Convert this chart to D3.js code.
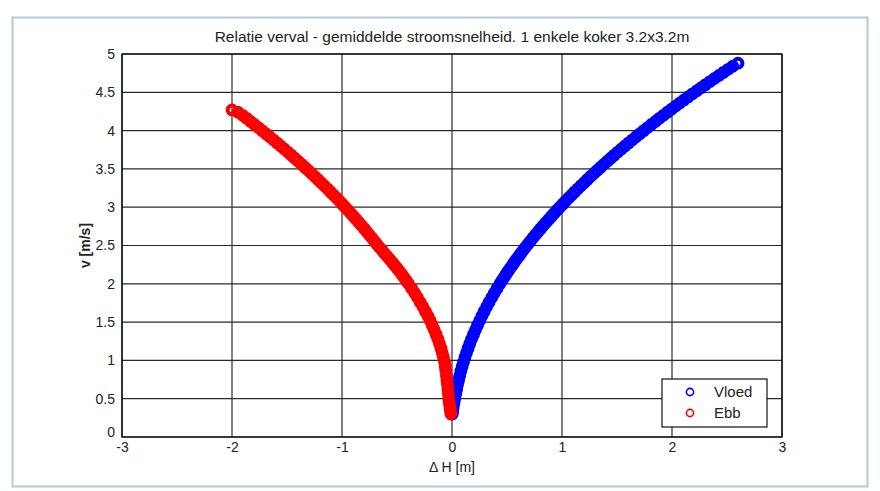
<!DOCTYPE html>
<html>
<head>
<meta charset="utf-8">
<script src="https://cdnjs.cloudflare.com/ajax/libs/d3/7.8.5/d3.min.js"></script>
<style>
  body { margin: 0; background: #fff; }
  svg { display: block; font-family: "Liberation Sans", Arial, sans-serif; }
</style>
</head>
<body>
<svg id="chart" width="880" height="491"></svg>
<script>
// values
const xTicks = [-3, -2, -1, 0, 1, 2, 3];
const yTicks = [0, 0.5, 1, 1.5, 2, 2.5, 3, 3.5, 4, 4.5, 5];
const seriesNames = ["Vloed", "Ebb"];

const vloedH = [0.003, 0.006, 0.010, 0.014, 0.019, 0.025,
  0.034, 0.042, 0.050, 0.060, 0.070, 0.081, 0.092, 0.105, 0.118, 0.132, 0.147, 0.162,
  0.178, 0.196, 0.214, 0.232, 0.252, 0.272, 0.293, 0.315, 0.337, 0.361, 0.385, 0.410, 0.436,
  0.453, 0.471, 0.490, 0.508, 0.527, 0.547, 0.566, 0.586, 0.607, 0.627, 0.649, 0.670,
  0.692, 0.714, 0.736, 0.759, 0.782, 0.806, 0.830, 0.854, 0.879, 0.904, 0.929, 0.954,
  0.980, 1.007, 1.033, 1.060, 1.088, 1.115, 1.144, 1.172, 1.201, 1.230, 1.259, 1.289,
  1.319, 1.350, 1.381, 1.412, 1.443, 1.475, 1.507, 1.540, 1.573, 1.606, 1.640, 1.674,
  1.708, 1.743, 1.778, 1.813, 1.849, 1.885, 1.922, 1.958, 1.995, 2.033, 2.071, 2.109,
  2.147, 2.186, 2.226, 2.265, 2.305, 2.345, 2.386, 2.427, 2.468, 2.510, 2.552, 2.600];
const vloedV = [0.30, 0.34, 0.38, 0.42, 0.46, 0.50,
  0.56, 0.62, 0.68, 0.74, 0.80, 0.86, 0.92, 0.98, 1.04, 1.10, 1.16, 1.22,
  1.28, 1.34, 1.40, 1.46, 1.52, 1.58, 1.64, 1.70, 1.76, 1.82, 1.88, 1.94, 2.00,
  2.04, 2.08, 2.12, 2.16, 2.20, 2.24, 2.28, 2.32, 2.36, 2.40, 2.44, 2.48,
  2.52, 2.56, 2.60, 2.64, 2.68, 2.72, 2.76, 2.80, 2.84, 2.88, 2.92, 2.96,
  3.00, 3.04, 3.08, 3.12, 3.16, 3.20, 3.24, 3.28, 3.32, 3.36, 3.40, 3.44,
  3.48, 3.52, 3.56, 3.60, 3.64, 3.68, 3.72, 3.76, 3.80, 3.84, 3.88, 3.92,
  3.96, 4.00, 4.04, 4.08, 4.12, 4.16, 4.20, 4.24, 4.28, 4.32, 4.36, 4.40,
  4.44, 4.48, 4.52, 4.56, 4.60, 4.64, 4.68, 4.72, 4.76, 4.80, 4.84, 4.88];

const ebbH = [-0.010, -0.014, -0.018, -0.022, -0.026, -0.030,
  -0.033, -0.037, -0.041, -0.046, -0.051, -0.056, -0.062, -0.068,
  -0.078, -0.089, -0.101, -0.114, -0.129, -0.145, -0.162, -0.180, -0.199,
  -0.220, -0.242, -0.265, -0.289, -0.314, -0.340, -0.367, -0.395,
  -0.414, -0.434, -0.455, -0.476, -0.498, -0.520, -0.543, -0.566, -0.590, -0.614,
  -0.638, -0.663, -0.685, -0.707, -0.729, -0.752, -0.775, -0.798, -0.822, -0.846,
  -0.870, -0.895, -0.920, -0.945, -0.971, -0.997, -1.023, -1.050, -1.077, -1.105,
  -1.132, -1.161, -1.189, -1.218, -1.247, -1.277, -1.306, -1.337, -1.367, -1.398,
  -1.429, -1.461, -1.493, -1.525, -1.558, -1.591, -1.624, -1.658, -1.692, -1.726,
  -1.761, -1.796, -1.831, -1.867, -1.903, -1.945, -2.000];
const ebbV = [0.30, 0.34, 0.38, 0.42, 0.46, 0.50,
  0.56, 0.62, 0.68, 0.74, 0.80, 0.86, 0.92, 0.98,
  1.04, 1.10, 1.16, 1.22, 1.28, 1.34, 1.40, 1.46, 1.52,
  1.58, 1.64, 1.70, 1.76, 1.82, 1.88, 1.94, 2.00,
  2.04, 2.08, 2.12, 2.16, 2.20, 2.24, 2.28, 2.32, 2.36, 2.40,
  2.44, 2.48, 2.52, 2.56, 2.60, 2.64, 2.68, 2.72, 2.76, 2.80,
  2.84, 2.88, 2.92, 2.96, 3.00, 3.04, 3.08, 3.12, 3.16, 3.20,
  3.24, 3.28, 3.32, 3.36, 3.40, 3.44, 3.48, 3.52, 3.56, 3.60,
  3.64, 3.68, 3.72, 3.76, 3.80, 3.84, 3.88, 3.92, 3.96, 4.00,
  4.04, 4.08, 4.12, 4.16, 4.20, 4.24, 4.27];

const colors = ["#0000ff", "#ff0000"];

let svg = d3.select("#chart");

// outer frame
svg.append("rect")
    .attr("x", 12.5).attr("y", 17.5)
    .attr("width", 855).attr("height", 469)
    .attr("fill", "#fff")
    .attr("stroke", "#b8c8dc")
    .attr("stroke-width", 2);

let padding = {top: 54, bottom: 54, left: 122, right: 98};
let width = 880 - padding.left - padding.right;
let height = 491 - padding.top - padding.bottom;

let x = d3.scaleLinear().domain([-3, 3]).range([0, width]);
let y = d3.scaleLinear().domain([0, 5]).range([height, 0]);

let canvas = svg.append("g")
    .attr("transform", "translate(" + padding.left + "," + padding.top + ")");

// grid
canvas.selectAll("line.vgrid")
    .data(xTicks)
    .enter()
    .append("line")
    .attr("class", "vgrid")
    .attr("x1", d => x(d)).attr("x2", d => x(d))
    .attr("y1", 0).attr("y2", height)
    .attr("stroke", "#2a2a2a").attr("stroke-width", 1.2);

canvas.selectAll("line.hgrid")
    .data(yTicks)
    .enter()
    .append("line")
    .attr("class", "hgrid")
    .attr("x1", 0).attr("x2", width)
    .attr("y1", d => y(d)).attr("y2", d => y(d))
    .attr("stroke", "#2a2a2a").attr("stroke-width", 1.2);

// plain matlab-like labels: "-3", "4.5", "0"
let fmt = d => String(d);
let xAxis = d3.axisBottom(x).tickValues(xTicks).tickSize(0).tickPadding(5).tickFormat(fmt);
let yAxis = d3.axisLeft(y).tickValues(yTicks).tickSize(0).tickPadding(7).tickFormat(fmt);

let gX = canvas.append("g")
    .attr("transform", "translate(0," + height + ")")
    .call(xAxis);
let gY = canvas.append("g").call(yAxis);

[gX, gY].forEach(function(g) {
    g.select(".domain").remove();
    g.selectAll("text")
        .attr("font-size", 14)
        .attr("font-family", "'Liberation Sans', Arial, sans-serif")
        .attr("fill", "#222");
});
// the 0 label sits just above the -3 label, as in the original
gY.selectAll(".tick").filter(d => d === 0).select("text").attr("dy", "-0.05em");

// box
canvas.append("rect")
    .attr("x", 0).attr("y", 0)
    .attr("width", width).attr("height", height)
    .attr("fill", "none")
    .attr("stroke", "#111").attr("stroke-width", 1.4);

// points
let series = [
    {name: seriesNames[0], H: vloedH, V: vloedV, color: colors[0]},
    {name: seriesNames[1], H: ebbH, V: ebbV, color: colors[1]}
];

series.forEach(function(s) {
    let pts = s.H.map(function(h, i) { return {h: h, v: s.V[i]}; });
    canvas.append("g")
        .selectAll("circle")
        .data(pts)
        .enter()
        .append("circle")
        .attr("cx", d => x(d.h))
        .attr("cy", d => y(d.v))
        .attr("r", 4.4)
        .attr("fill", "none")
        .attr("stroke", s.color)
        .attr("stroke-width", 4);
});

// title and labels
svg.append("text")
    .attr("x", padding.left + width / 2)
    .attr("y", 42)
    .attr("text-anchor", "middle")
    .attr("font-size", 15.5)
    .attr("fill", "#222")
    .text("Relatie verval - gemiddelde stroomsnelheid. 1 enkele koker 3.2x3.2m");

svg.append("text")
    .attr("x", padding.left + width / 2)
    .attr("y", 472)
    .attr("text-anchor", "middle")
    .attr("font-size", 14)
    .attr("fill", "#222")
    .text("\u0394 H [m]");

svg.append("text")
    .attr("transform", "translate(90," + (padding.top + height / 2) + ") rotate(-90)")
    .attr("text-anchor", "middle")
    .attr("font-size", 14)
    .attr("font-weight", "bold")
    .attr("fill", "#222")
    .text("v [m/s]");

// legend
let legend = svg.append("g").attr("transform", "translate(662,379)");
legend.append("rect")
    .attr("width", 105).attr("height", 48)
    .attr("fill", "#fff")
    .attr("stroke", "#111").attr("stroke-width", 1.2);

series.forEach(function(s, i) {
    legend.append("circle")
        .attr("cx", 28).attr("cy", 13 + i * 21)
        .attr("r", 3.6)
        .attr("fill", "none")
        .attr("stroke", s.color)
        .attr("stroke-width", 1.6);
    legend.append("text")
        .attr("x", 52).attr("y", 18 + i * 21)
        .attr("font-size", 15)
        .attr("fill", "#222")
        .text(s.name);
});
</script>
</body>
</html>
